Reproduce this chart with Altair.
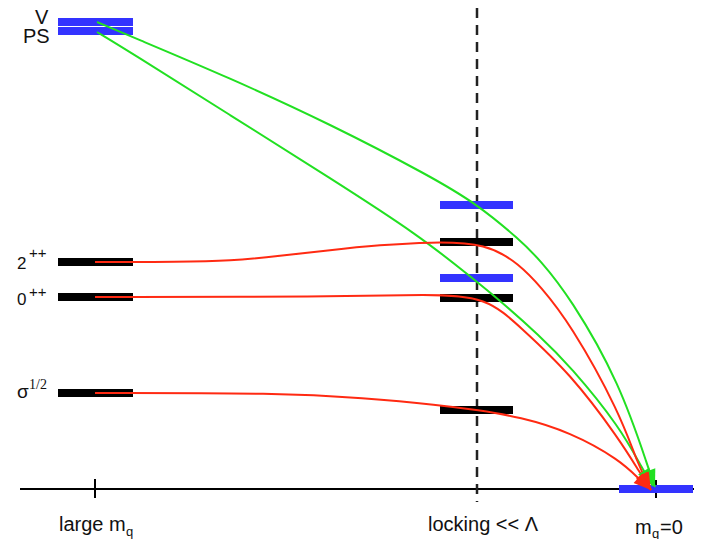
import math
import altair as alt
import pandas as pd

# ---------------- data (schematic units: x along m_q axis, E = level height above axis)
X_DOMAIN = [8, 694]
Y_DOMAIN = [-50, 481]
W, H = 686, 531

left_bar_x = [58, 133]
mid_bar_x = [440, 513]
right_bar_x = [619, 693]

left_blue_levels = [467, 458]          # V, PS
left_black_levels = [227, 192, 96]     # 2++, 0++, sigma^1/2
mid_blue_levels = [284, 211]
mid_black_levels = [247, 191, 79]
right_blue_levels = [0]

axis_x = [20, 694]
tick_x = [95, 656]
locking_x = 477

# green curves (V, PS)
green_V_x = [97, 130, 230, 330, 430, 477, 520, 540, 570, 620, 650, 655]
green_V_y = [467, 453, 411, 365, 313, 285, 249, 229, 192, 106, 16, 2]
green_PS_x = [97, 130, 230, 330, 420, 472, 497, 540, 570, 620, 643, 653]
green_PS_y = [457, 437, 374, 311, 253, 211, 191, 153, 123, 62, 19, 3]

# red curves (2++, 0++, sigma)
red_2_x = [95, 180, 230, 280, 330, 380, 430, 487, 520, 540, 570, 620, 638, 651]
red_2_y = [227, 227, 228, 233, 239, 244, 247, 246, 224, 203, 166, 76, 24, -1]
red_0_x = [95, 330, 430, 487, 520, 570, 620, 640, 651]
red_0_y = [192, 192, 195, 192, 162, 116, 49, 16, -1]
red_s_x = [95, 280, 363, 440, 477, 520, 570, 620, 640, 651]
red_s_y = [96, 96, 91, 84, 79, 72, 57, 29, 9, -1]

# labels
main_text = ["V", "PS", "large m", "locking << Λ", "m", "=0"]
main_x = [35, 23, 59, 428, 635, 660]
main_y = [465, 446, -42, -42, -45, -45]
sigma_text = ["σ"]
sigma_x = [17]
sigma_y = [91]
digit_text = ["2", "0"]
digit_x = [17, 17]
digit_y = [220, 184]
sup_text = ["++", "++"]
sup_x = [29, 29]
sup_y = [231, 192.5]
frac_text = ["1/2"]
frac_x = [29]
frac_y = [100]
sub_text = ["q", "q"]
sub_x = [126, 652]
sub_y = [-47, -49]

# ---------------- styles
BLUE = "#3333ff"
BLACK = "#000000"
GREEN = "#22e022"
RED = "#ff2a12"
SANS = "Liberation Sans"
SERIF = "Liberation Serif"

xs = alt.Scale(domain=X_DOMAIN, nice=False, zero=False)
ys = alt.Scale(domain=Y_DOMAIN, nice=False, zero=False)


def X(f="x"):
    return alt.X(f"{f}:Q", scale=xs, axis=None)


def Y(f="y"):
    return alt.Y(f"{f}:Q", scale=ys, axis=None)


def bars(levels, xr, color, thick):
    df = pd.DataFrame({"x": [xr[0]] * len(levels), "x2": [xr[1]] * len(levels), "y": levels})
    return alt.Chart(df).mark_rule(color=color, strokeWidth=thick, strokeCap="butt").encode(
        x=X(), x2=alt.X2("x2:Q"), y=Y()
    )


def curves(clist, color):
    rows = []
    for i, (cx, cy) in enumerate(clist):
        rows += [{"id": i, "x": a, "y": b, "o": k} for k, (a, b) in enumerate(zip(cx, cy))]
    return alt.Chart(pd.DataFrame(rows)).mark_line(
        color=color, strokeWidth=2, interpolate="basis"
    ).encode(x=X(), y=Y(), detail="id:N", order="o:Q")


ARROW = "M0,0L0.6,1.6L-0.6,1.6Z"
sx = W / (X_DOMAIN[1] - X_DOMAIN[0])
sy = H / (Y_DOMAIN[1] - Y_DOMAIN[0])


def heads(clist, color):
    rows = []
    for cx, cy in clist:
        dx = (cx[-1] - cx[-2]) * sx
        dy = (cy[-1] - cy[-2]) * sy
        ang = math.degrees(math.atan2(dx, dy)) % 360
        rows.append({"x": cx[-1], "y": cy[-1], "angle": ang})
    return alt.Chart(pd.DataFrame(rows)).mark_point(
        shape=ARROW, filled=True, size=480, color=color, opacity=1, strokeWidth=0
    ).encode(x=X(), y=Y(), angle=alt.Angle("angle:Q", scale=None))


def texts(t, tx, ty, font, size):
    df = pd.DataFrame({"x": tx, "y": ty, "t": t})
    return alt.Chart(df).mark_text(
        align="left", baseline="alphabetic", font=font, fontSize=size, color="#111"
    ).encode(x=X(), y=Y(), text="t:N")


axis_line = alt.Chart(pd.DataFrame({"x": [axis_x[0]], "x2": [axis_x[1]], "y": [0]})).mark_rule(
    color="#000", strokeWidth=2
).encode(x=X(), x2=alt.X2("x2:Q"), y=Y())

ticks = alt.Chart(pd.DataFrame({"x": tick_x, "y": [10, 9], "y2": [-9, -9]})).mark_rule(
    color="#000", strokeWidth=2
).encode(x=X(), y=Y(), y2=alt.Y2("y2:Q"))

locking = alt.Chart(pd.DataFrame({"x": [locking_x], "y": [481], "y2": [-13]})).mark_rule(
    color="#222", strokeWidth=2.5, strokeDash=[10, 7]
).encode(x=X(), y=Y(), y2=alt.Y2("y2:Q"))

greens = [(green_V_x, green_V_y), (green_PS_x, green_PS_y)]
reds = [(red_2_x, red_2_y), (red_0_x, red_0_y), (red_s_x, red_s_y)]

chart = alt.layer(
    axis_line,
    ticks,
    locking,
    bars(left_blue_levels, left_bar_x, BLUE, 8),
    bars(left_black_levels, left_bar_x, BLACK, 8),
    bars(mid_blue_levels, mid_bar_x, BLUE, 8),
    bars(mid_black_levels, mid_bar_x, BLACK, 8),
    bars(right_blue_levels, right_bar_x, BLUE, 8),
    curves(greens, GREEN),
    curves(reds, RED),
    heads(greens, GREEN),
    heads(reds, RED),
    texts(main_text, main_x, main_y, SANS, 20),
    texts(sigma_text, sigma_x, sigma_y, SANS, 19),
    texts(digit_text, digit_x, digit_y, SANS, 17),
    texts(sup_text, sup_x, sup_y, SANS, 15),
    texts(frac_text, frac_x, frac_y, SERIF, 14),
    texts(sub_text, sub_x, sub_y, SANS, 13),
).properties(
    width=W, height=H, autosize=alt.AutoSizeParams(type="none"), padding=0, background="white"
).configure_view(strokeWidth=0)

chart.save("out.html", embed_options={"renderer": "svg", "actions": False})
